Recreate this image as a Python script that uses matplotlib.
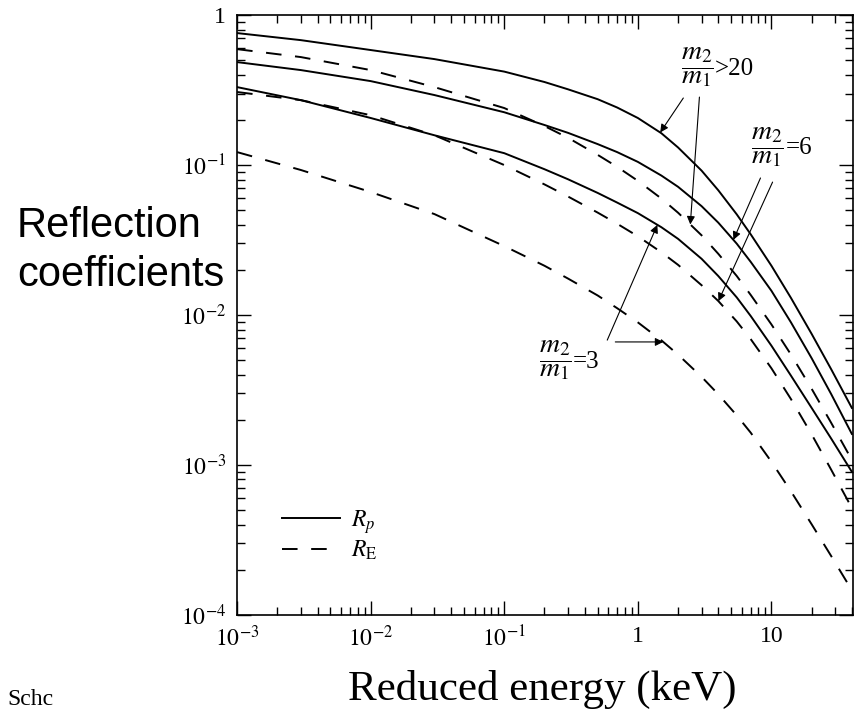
import numpy as np
import matplotlib.pyplot as plt
from matplotlib.ticker import LogLocator, NullFormatter

plt.rcParams["font.family"] = "Liberation Serif"
plt.rcParams["mathtext.fontset"] = "stix"

# reduced energy grid
energy = [1e-3, 3e-3, 1e-2, 3e-2, 0.1, 0.2, 0.3, 0.5, 0.7, 1, 1.5, 2, 3, 4,
          5.5, 7, 10, 14, 20, 28, 40]

# particle reflection coefficient R_p for m2/m1 > 20, 6, 3
rp_20 = [0.759, 0.681, 0.585, 0.509, 0.42, 0.358, 0.32, 0.275, 0.242, 0.206,
         0.163, 0.131, 0.0918, 0.0679, 0.0469, 0.0345, 0.0213, 0.013, 0.00748,
         0.00435, 0.0024]
rp_6 = [0.486, 0.43, 0.363, 0.293, 0.225, 0.185, 0.164, 0.138, 0.122, 0.105,
        0.0851, 0.0716, 0.0532, 0.0413, 0.0299, 0.0226, 0.0145, 0.00893,
        0.00515, 0.00297, 0.00161]
rp_3 = [0.331, 0.271, 0.206, 0.158, 0.12, 0.0938, 0.0804, 0.0652, 0.0562,
        0.0478, 0.0385, 0.0322, 0.0237, 0.0182, 0.0131, 0.00984, 0.00624,
        0.00394, 0.0024, 0.0015, 0.0009]

# energy reflection coefficient R_E for m2/m1 > 20, 6, 3
re_20 = [0.593, 0.525, 0.43, 0.331, 0.24, 0.182, 0.152, 0.117, 0.0973, 0.0785,
         0.0598, 0.0481, 0.034, 0.0256, 0.0182, 0.0136, 0.00865, 0.00545,
         0.00322, 0.00191, 0.00108]
re_6 = [0.307, 0.271, 0.215, 0.158, 0.1, 0.0743, 0.0617, 0.0482, 0.0406,
        0.0335, 0.0262, 0.0216, 0.0158, 0.0124, 0.00906, 0.0069, 0.00441,
        0.00275, 0.0016, 0.00093, 0.000516]
re_3 = [0.122, 0.0927, 0.0661, 0.0471, 0.0288, 0.0213, 0.0175, 0.0135, 0.0111,
        0.00893, 0.00678, 0.00544, 0.00387, 0.00296, 0.00214, 0.00164, 0.00105,
        0.000667, 0.000402, 0.000247, 0.000146]

xticks = [1e-3, 1e-2, 1e-1, 1, 10]
xticklabels = ["$10^{-3}$", "$10^{-2}$", "$10^{-1}$", "1", "10"]
yticks = [1e-4, 1e-3, 1e-2, 1e-1, 1]
yticklabels = ["$10^{-4}$", "$10^{-3}$", "$10^{-2}$", "$10^{-1}$", "1"]


def on_curve(e, r, x):
    # value of a curve at energy x, log-log interpolation
    return 10 ** np.interp(np.log10(x), np.log10(e), np.log10(r))


fig = plt.figure(figsize=(8.56, 7.2), dpi=100)
ax = fig.add_axes([0.277, 0.146, 0.719, 0.833])

first = True
for r in (rp_20, rp_6, rp_3):
    ax.plot(energy, r, color="black", lw=1.4, label="$R_p$" if first else None)
    first = False
first = True
for r in (re_20, re_6, re_3):
    ax.plot(energy, r, color="black", lw=1.4, dashes=(8, 7),
            label=r"$R_\mathrm{E}$" if first else None)
    first = False

ax.set_xscale("log")
ax.set_yscale("log")
ax.set_xlim(1e-3, 40.5)
ax.set_ylim(1e-4, 1)

ax.set_xticks(xticks, xticklabels)
ax.set_yticks(yticks, yticklabels)
for axis in (ax.xaxis, ax.yaxis):
    axis.set_minor_locator(LogLocator(base=10, subs=np.arange(2, 10), numticks=20))
    axis.set_minor_formatter(NullFormatter())
ax.tick_params(which="both", direction="in", top=True, right=True, width=1)
ax.tick_params(which="major", length=10, labelsize=17, pad=8)
ax.tick_params(which="minor", length=6)
for s in ax.spines.values():
    s.set_linewidth(1.2)

ax.legend(loc="lower left", bbox_to_anchor=(0.039, 0.052), frameon=False,
          handlelength=2.45, handletextpad=0.45, fontsize=17, labelspacing=0.15)

arrow = dict(arrowstyle="-|>", lw=0.8, color="black", mutation_scale=12,
             shrinkA=0, shrinkB=0)


def ratio_label(x, y, tail):
    frac = ax.text(x, y, r"$\dfrac{m_2}{m_1}$", fontsize=20, ha="center", va="center")
    ax.annotate(tail, xy=(1, 0.5), xycoords=frac, xytext=(1, -1),
                textcoords="offset points", fontsize=18, ha="left", va="center")


# m2/m1 > 20
ratio_label(2.79, 0.45, ">20")
ax.annotate("", xy=(1.47, on_curve(energy, rp_20, 1.47)), xytext=(2.19, 0.28),
            arrowprops=arrow)
ax.annotate("", xy=(2.47, on_curve(energy, re_20, 2.47)), xytext=(2.89, 0.284),
            arrowprops=arrow)

# m2/m1 = 6
ratio_label(9.33, 0.132, "=6")
ax.annotate("", xy=(5.19, on_curve(energy, rp_6, 5.19)), xytext=(8.28, 0.082),
            arrowprops=arrow)
ax.annotate("", xy=(4.01, on_curve(energy, re_6, 4.01)), xytext=(10.2, 0.077),
            arrowprops=arrow)

# m2/m1 = 3
ratio_label(0.241, 0.005, "=3")
ax.annotate("", xy=(1.4, on_curve(energy, rp_3, 1.4)), xytext=(0.59, 0.0068),
            arrowprops=arrow)
y3 = on_curve(energy, re_3, 1.55)
ax.annotate("", xy=(1.55, y3), xytext=(0.678, y3), arrowprops=arrow)

fig.text(0.02, 0.652, "Reflection\ncoefficients", family="Liberation Sans",
         fontsize=30, ha="left", va="center", linespacing=1.3)
fig.text(0.633, 0.042, "Reduced energy (keV)", fontsize=31, ha="center", va="center")
fig.text(0.009, 0.028, "Schc", fontsize=17, ha="left", va="center")

fig.savefig("out.png", dpi=100)
